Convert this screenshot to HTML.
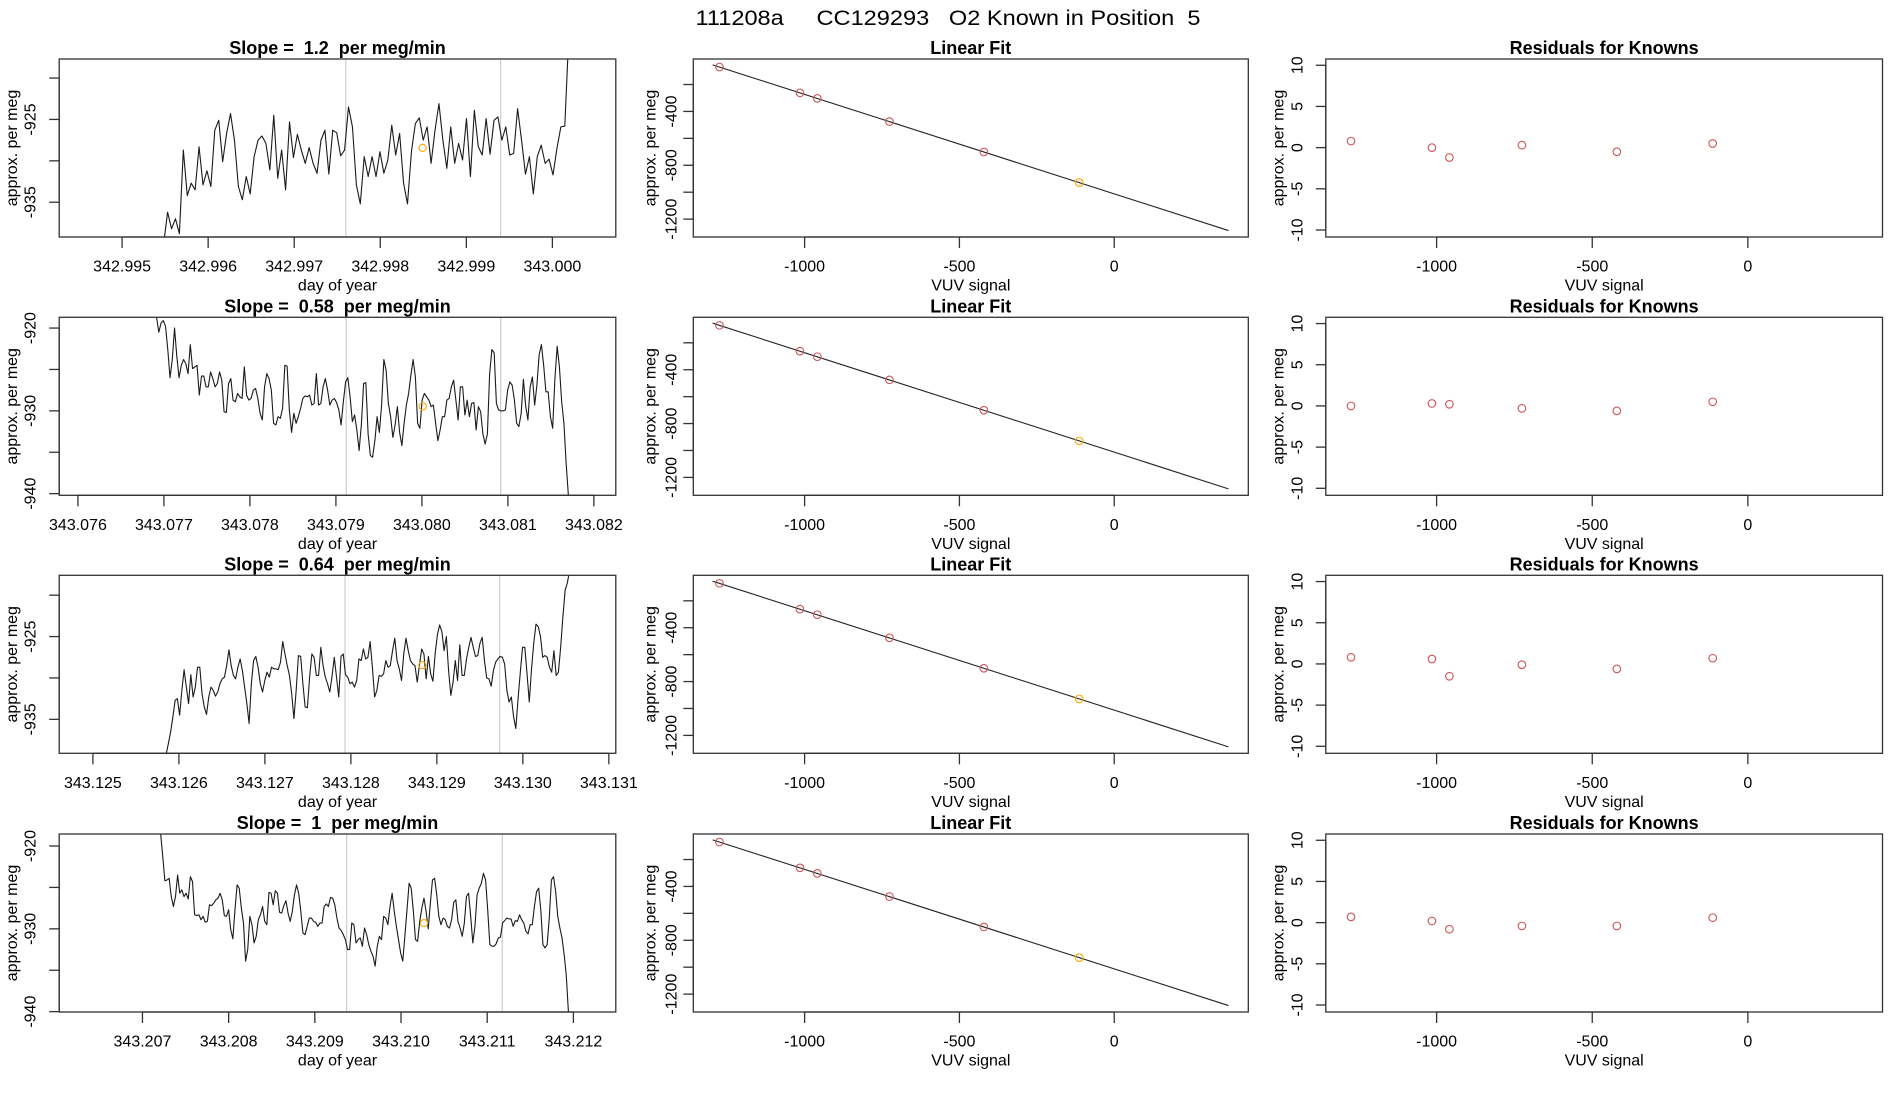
<!DOCTYPE html>
<html><head><meta charset="utf-8"><title>111208a CC129293 O2 Known in Position 5</title>
<style>
html,body{margin:0;padding:0;background:#fff;}
svg{display:block;font-family:"Liberation Sans",Arial,sans-serif;}
svg text{white-space:pre;}
</style></head>
<body>
<svg id="fig" width="1900" height="1100" viewBox="0 0 1900 1100" xmlns="http://www.w3.org/2000/svg">
<rect x="0" y="0" width="1900" height="1100" fill="#fff"/>
<text x="948" y="25" font-size="21" text-anchor="middle" xml:space="preserve" textLength="505" lengthAdjust="spacingAndGlyphs">111208a     CC129293   O2 Known in Position  5</text>
</svg>
<script>
// ---------- time series data (approx. per meg, evenly sampled between t0 and t1) ----------
const slopes = ["1.2", "0.58", "0.64", "1"];
const seriesStart = [342.995483, 343.076914, 343.125852, 343.207211];
const seriesEnd   = [343.000190, 343.081704, 343.130544, 343.211942];
const series1 = [-940,-936.2,-938.2,-937.0,-938.8,-928.7,-934.2,-932.7,-933.5,-928.3,-932.9,-931.2,-933.1,-926.3,-925.1,-930.1,-926.7,-924.3,-927.5,-933.1,-934.7,-931.9,-934.0,-929.5,-927.5,-927.0,-927.9,-931.1,-924.5,-932.1,-928.7,-933.5,-925.3,-929.6,-926.8,-928.7,-930.3,-928.4,-930.3,-931.5,-927.5,-926.3,-931.6,-926.3,-926.6,-929.4,-928.7,-923.5,-925.9,-932.9,-935.2,-929.5,-931.9,-929.5,-931.9,-928.9,-931.5,-929.9,-925.7,-929.3,-926.7,-932.7,-935.2,-928.9,-925.5,-924.8,-927.5,-925.9,-930.3,-926.3,-923.1,-927.5,-930.9,-925.9,-930.3,-927.9,-929.9,-924.9,-931.9,-923.9,-928.3,-929.3,-924.9,-929.2,-925.1,-924.7,-927.5,-925.9,-929.3,-929.1,-923.7,-927.5,-931.6,-929.5,-934.0,-929.5,-928.1,-930.3,-929.8,-931.7,-928.5,-925.9,-925.8,-915];
const series2 = [-918.7,-920.5,-919.4,-919.1,-919.8,-922.6,-926.0,-923.8,-920.0,-923.4,-926.0,-924.5,-923.8,-924.3,-925.5,-922.0,-924.9,-924.7,-924.5,-928.1,-925.8,-925.8,-927.1,-927.1,-925.3,-926.1,-927.1,-926.7,-925.3,-926.3,-930.1,-930.2,-926.7,-926.1,-928.7,-928.9,-927.9,-928.3,-928.5,-924.7,-928.1,-928.7,-928.5,-927.5,-927.3,-928.5,-930.3,-931.1,-927.1,-925.5,-926.1,-927.5,-931.5,-931.7,-930.7,-930.9,-929.7,-924.5,-924.6,-929.9,-932.6,-930.3,-931.5,-930.7,-929.7,-928.5,-928.2,-928.3,-928.1,-929.3,-929.1,-925.5,-929.3,-929.1,-927.1,-926.1,-927.5,-929.3,-928.7,-928.5,-929.0,-929.9,-931.7,-928.9,-926.5,-926.0,-928.3,-931.3,-930.5,-932.3,-934.8,-931.7,-926.7,-926.6,-932.8,-935.4,-935.6,-933.6,-930.7,-932.6,-929.3,-923.8,-925.1,-929.1,-930.7,-933.2,-931.7,-929.5,-932.6,-934.2,-931.5,-929.3,-927.9,-925.7,-923.8,-925.9,-931.5,-932.1,-928.7,-927.9,-928.3,-928.7,-929.5,-929.3,-931.5,-933.6,-932.3,-930.7,-930.7,-928.7,-928.5,-927.1,-926.3,-928.7,-931.1,-927.1,-927.1,-930.5,-928.7,-930.7,-929.1,-929.0,-932.3,-929.5,-930.1,-932.8,-934.0,-932.8,-925.5,-922.6,-923.0,-929.1,-929.9,-930.0,-930.0,-929.9,-927.5,-926.5,-926.9,-928.7,-931.5,-931.9,-930.3,-926.2,-929.4,-931.1,-927.1,-925.9,-929.3,-926.9,-923.2,-922.0,-924.5,-927.7,-927.7,-930.7,-932.1,-926.1,-922.2,-924.7,-928.9,-931.5,-936.4,-940.3];
const series3 = [-939.2,-937.9,-936.5,-934.7,-932.7,-932.5,-934.5,-931.5,-929.0,-931.1,-933.1,-929.6,-932.3,-931.1,-928.7,-928.7,-931.9,-933.5,-934.4,-932.3,-931.1,-931.5,-932.2,-931.7,-930.7,-930.1,-929.9,-928.5,-926.6,-928.5,-929.7,-930.1,-928.7,-927.7,-929.1,-931.1,-933.1,-935.5,-930.7,-927.9,-927.4,-928.7,-930.7,-931.7,-930.3,-929.3,-929.9,-928.7,-928.9,-928.9,-929.0,-928.1,-925.6,-927.1,-928.5,-929.7,-931.9,-934.9,-931.5,-927.3,-927.4,-930.7,-933.5,-933.6,-929.9,-927.1,-927.5,-929.7,-929.7,-926.3,-928.5,-929.9,-930.7,-931.7,-929.8,-927.5,-929.9,-932.3,-927.4,-927.1,-929.6,-929.9,-930.7,-930.5,-931.1,-930.3,-927.7,-927.9,-926.5,-927.7,-927.5,-925.6,-928.7,-932.3,-931.5,-929.7,-929.8,-929.5,-927.9,-928.7,-928.5,-926.7,-925.2,-927.9,-928.9,-930.3,-927.1,-925.2,-926.7,-927.9,-928.3,-928.5,-930.5,-928.5,-926.5,-927.1,-930.1,-927.4,-929.5,-930.4,-927.1,-924.8,-923.6,-924.4,-926.7,-925.0,-929.1,-932.1,-930.5,-927.9,-930.3,-926.0,-929.7,-929.7,-927.7,-926.3,-925.1,-926.3,-927.4,-927.3,-925.8,-925.1,-927.9,-930.0,-930.1,-931.0,-929.1,-928.1,-927.7,-927.4,-927.5,-928.3,-931.5,-932.9,-932.3,-934.7,-936.1,-932.5,-929.3,-926.3,-926.3,-929.5,-932.9,-928.9,-925.8,-923.5,-923.8,-925.0,-927.5,-927.3,-927.5,-928.7,-929.3,-926.7,-929.7,-929.3,-926.3,-922.6,-919.4,-918.5,-917.0];
const series4 = [-918.5,-921.3,-924.2,-924.1,-923.9,-926.1,-927.3,-926.1,-923.5,-925.7,-925.3,-926.1,-925.7,-926.4,-923.7,-924.3,-928.3,-928.4,-928.3,-928.9,-928.5,-929.2,-929.1,-927.1,-927.2,-926.9,-926.5,-926.3,-925.7,-926.5,-928.4,-928.5,-927.7,-930.1,-931.2,-927.7,-924.7,-925.1,-927.5,-929.3,-933.9,-932.5,-928.5,-929.5,-931.7,-930.9,-928.9,-928.3,-927.3,-929.1,-929.5,-925.6,-925.7,-927.1,-925.4,-925.7,-928.0,-928.1,-927.2,-926.6,-928.1,-929.1,-927.9,-925.9,-924.7,-925.7,-927.9,-930.5,-930.7,-929.7,-928.7,-928.7,-929.1,-929.2,-929.7,-929.3,-929.3,-927.3,-927.0,-927.3,-926.2,-926.3,-927.1,-928.7,-929.9,-930.2,-930.7,-931.3,-932.5,-932.5,-929.3,-929.5,-931.7,-931.3,-931.1,-932.1,-929.9,-930.7,-931.9,-932.7,-933.3,-934.5,-932.1,-930.9,-931.3,-928.5,-928.7,-929.5,-927.3,-925.7,-927.9,-929.7,-931.3,-932.9,-933.9,-930.9,-927.7,-924.5,-925.1,-927.9,-931.3,-931.5,-929.1,-927.5,-926.3,-927.9,-930.0,-926.9,-924.1,-923.9,-925.9,-928.5,-929.5,-928.7,-928.9,-929.7,-929.9,-928.9,-926.8,-926.5,-929.1,-929.9,-930.9,-929.3,-926.1,-925.7,-928.5,-931.7,-929.7,-925.9,-925.1,-924.5,-923.3,-924.1,-927.7,-931.9,-932.1,-932.1,-931.8,-931.1,-931.0,-929.3,-929.0,-928.7,-928.8,-928.8,-929.7,-929.0,-929.1,-928.3,-928.9,-929.3,-930.3,-930.6,-929.5,-929.5,-927.3,-925.5,-925.1,-927.7,-931.9,-932.3,-931.9,-928.7,-924.1,-923.7,-925.5,-928.5,-929.9,-931.1,-933.1,-935.6,-940.0];
const allSeries = [series1, series2, series3, series4];
// vertical reference lines (day of year) and the highlighted known (orange)
const refLineA = [342.997599, 343.079120, 343.127932, 343.209369];
const refLineB = [342.999398, 343.080916, 343.129731, 343.211175];
const knownT = [342.998492, 343.080010, 343.128832, 343.210267];
const knownV = [-928.43, -929.47, -928.46, -929.31];
// axis domains for each time panel
const tDomainMin = [342.994269, 343.075782, 343.124608, 343.206034];
const tDomainMax = [343.000737, 343.082255, 343.131081, 343.212492];
const vDomainMin = [-939.2, -940.2, -939.1, -940.04];
const vDomainMax = [-917.7, -918.7, -917.6, -918.55];
const tTickLabels = [
  ["342.995","342.996","342.997","342.998","342.999","343.000"],
  ["343.076","343.077","343.078","343.079","343.080","343.081","343.082"],
  ["343.125","343.126","343.127","343.128","343.129","343.130","343.131"],
  ["343.207","343.208","343.209","343.210","343.211","343.212"]
];
const vTicks = [[-920,-925,-930,-935],[-920,-925,-930,-935,-940],[-920,-925,-930,-935],[-920,-925,-930,-935,-940]];
const vTickLabels = [[-925,-935],[-920,-930,-940],[-925,-935],[-920,-930,-940]];
// ---------- linear fit data ----------
const vuvSignal = [-1275, -1015, -959, -726, -421, -113];
const fitValues = [-70, -262, -303, -475, -701, -929];
const fitLineX = [-1297, 369];
const fitLineY = [-54, -1285];
const fitXTicks = [-1000, -500, 0];
const fitYTicks = [-200, -400, -600, -800, -1000, -1200];
const fitYTickLabels = [-400, -800, -1200];
// ---------- residuals ----------
const residuals = [
  [0.8, 0.0, -1.2, 0.3, -0.5, 0.5],
  [0.0, 0.3, 0.2, -0.3, -0.6, 0.5],
  [0.8, 0.6, -1.5, -0.1, -0.6, 0.7],
  [0.7, 0.2, -0.8, -0.4, -0.4, 0.6]
];
const resYTicks = [-10, -5, 0, 5, 10];

// ---------- layout ----------
const NS = "http://www.w3.org/2000/svg";
const svg = document.getElementById("fig");
const rowTop = [59, 317.3, 575.3, 834];
const PH = 178;
const colL = [59.2, 693.3, 1325.8];
const colR = [615.8, 1248.3, 1882.5];
const ytickLabelX = [31, 672, 1298];
const ytitleX = [12.5, 651, 1279];
const xDomMid = [-1359.5, 433];
const yDomMid = [-1333, -10.4];
const xDomRes = [-1356, 432.5];
const yDomRes = [-10.85, 10.76];

function el(tag, attrs, parent) {
  const e = document.createElementNS(NS, tag);
  for (const k in attrs) e.setAttribute(k, attrs[k]);
  (parent || svg).appendChild(e);
  return e;
}
function txt(s, attrs, parent) { const t = el("text", attrs, parent); t.textContent = s; return t; }
function scale(d0, d1, r0, r1) { return v => r0 + (v - d0) / (d1 - d0) * (r1 - r0); }

function frame(g, c, top, title) {
  const b = el("rect", {x: colL[c], y: top, width: colR[c]-colL[c], height: PH, fill: "none", stroke: "#333", "stroke-width": 1.3}, g);
  
  
  const t = txt(title, {x: (colL[c]+colR[c])/2, y: top-11, "font-size": 18, "font-weight": "bold", "text-anchor": "middle", "dominant-baseline": "central", style: "white-space:pre"}, g);
  
  
}
function xAxis(g, c, top, xs, vals, labels, title) {
  const bot = top + PH;
  const ax = el("g", {}, g);
  
  
  const px = vals.map(xs);
  el("line", {x1: px[0], x2: px[px.length-1], y1: bot, y2: bot, stroke: "#333", "stroke-width": 1.3}, ax);
  vals.forEach((v, i) => {
    el("line", {x1: px[i], x2: px[i], y1: bot, y2: bot+11, stroke: "#333", "stroke-width": 1.3}, ax);
    const l = txt(labels[i], {x: px[i], y: bot+30, "font-size": 16, "text-anchor": "middle", "dominant-baseline": "central"}, ax);
    
    
  });
  const t = txt(title, {x: (colL[c]+colR[c])/2, y: bot+49, "font-size": 16, "text-anchor": "middle", "dominant-baseline": "central"}, g);
  
  
}
function yAxis(g, c, top, ys, ticks, labels) {
  const x = colL[c];
  const ax = el("g", {}, g);
  
  
  const py = ticks.map(ys);
  el("line", {x1: x, x2: x, y1: Math.min(...py), y2: Math.max(...py), stroke: "#333", "stroke-width": 1.3}, ax);
  ticks.forEach((v, i) => {
    el("line", {x1: x-10, x2: x, y1: py[i], y2: py[i], stroke: "#333", "stroke-width": 1.3}, ax);
  });
  labels.forEach(v => {
    const yy = ys(v);
    const l = txt(String(v), {x: ytickLabelX[c], y: yy, "font-size": 16, "text-anchor": "middle", "dominant-baseline": "central", transform: `rotate(-90 ${ytickLabelX[c]} ${yy})`}, ax);
    
    
  });
  const cy = top + PH/2;
  const t = txt("approx. per meg", {x: ytitleX[c], y: cy, "font-size": 16, "text-anchor": "middle", "dominant-baseline": "central", transform: `rotate(-90 ${ytitleX[c]} ${cy})`}, g);
  
  
}

for (let r = 0; r < 4; r++) {
  const top = rowTop[r];
  // ---- time series panel ----
  const g1 = el("g", {});
  
  
  const xs = scale(tDomainMin[r], tDomainMax[r], colL[0], colR[0]);
  const ys = scale(vDomainMin[r], vDomainMax[r], top+PH, top);
  const cp = el("clipPath", {id: "clip" + r}, g1);
  el("rect", {x: colL[0], y: top, width: colR[0]-colL[0], height: PH}, cp);
  const gl = el("g", {"clip-path": `url(#clip${r})`}, g1);
  [refLineA[r], refLineB[r]].forEach(t => {
    const l = el("line", {x1: xs(t), x2: xs(t), y1: top, y2: top+PH, stroke: "#d0d0d0", "stroke-width": 1.3}, gl);
    
    
  });
  const vals = allSeries[r];
  const n = vals.length;
  const pts = vals.map((v, i) => {
    const t = seriesStart[r] + (seriesEnd[r] - seriesStart[r]) * i / (n - 1);
    return xs(t).toFixed(2) + "," + ys(v).toFixed(2);
  }).join(" ");
  const pl = el("polyline", {points: pts, fill: "none", stroke: "#1a1a1a", "stroke-width": 1.1, "stroke-linejoin": "round"}, gl);
  
  
  const kc = el("circle", {cx: xs(knownT[r]), cy: ys(knownV[r]), r: 3.6, fill: "none", stroke: "#ffa500", "stroke-width": 1.1}, gl);
  
  
  frame(g1, 0, top, `Slope =  ${slopes[r]}  per meg/min`);
  const tVals = tTickLabels[r].map(parseFloat);
  xAxis(g1, 0, top, xs, tVals, tTickLabels[r], "day of year");
  yAxis(g1, 0, top, ys, vTicks[r], vTickLabels[r]);

  // ---- linear fit panel ----
  const g2 = el("g", {});
  
  
  const mx = scale(xDomMid[0], xDomMid[1], colL[1], colR[1]);
  const my = scale(yDomMid[0], yDomMid[1], top+PH, top);
  const fl = el("line", {x1: mx(fitLineX[0]), y1: my(fitLineY[0]), x2: mx(fitLineX[1]), y2: my(fitLineY[1]), stroke: "#222", "stroke-width": 1.1}, g2);
  
  
  vuvSignal.forEach((x, i) => {
    const c = el("circle", {cx: mx(x), cy: my(fitValues[i]), r: 3.8, fill: "none", stroke: i === vuvSignal.length-1 ? "#ffa500" : "#cd5555", "stroke-width": 1.1}, g2);
    
    
  });
  frame(g2, 1, top, "Linear Fit");
  xAxis(g2, 1, top, mx, fitXTicks, fitXTicks.map(String), "VUV signal");
  yAxis(g2, 1, top, my, fitYTicks, fitYTickLabels);

  // ---- residual panel ----
  const g3 = el("g", {});
  
  
  const rx = scale(xDomRes[0], xDomRes[1], colL[2], colR[2]);
  const ry = scale(yDomRes[0], yDomRes[1], top+PH, top);
  vuvSignal.forEach((x, i) => {
    const c = el("circle", {cx: rx(x), cy: ry(residuals[r][i]), r: 3.8, fill: "none", stroke: "#cd5555", "stroke-width": 1.1}, g3);
    
    
  });
  frame(g3, 2, top, "Residuals for Knowns");
  xAxis(g3, 2, top, rx, fitXTicks, fitXTicks.map(String), "VUV signal");
  yAxis(g3, 2, top, ry, resYTicks, resYTicks);
}
</script>
</body></html>
